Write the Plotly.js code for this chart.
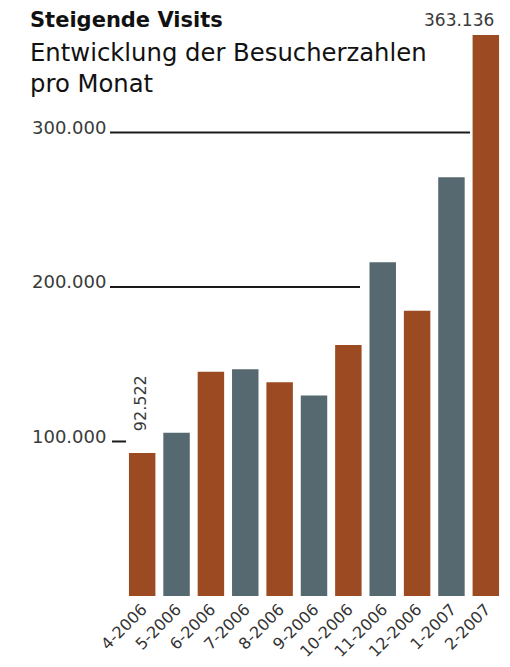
<!DOCTYPE html>
<html>
<head>
<meta charset="utf-8">
<script src="https://cdn.plot.ly/plotly-3.0.1.min.js"></script>
<style>
html,body{margin:0;padding:0;background:#fff;}
#chart{width:510px;height:667px;}
</style>
</head>
<body>
<div id="chart"></div>
<script>
// ---- data ----
const months = ["4-2006","5-2006","6-2006","7-2006","8-2006","9-2006","10-2006","11-2006","12-2006","1-2007","2-2007"];
const visits = [92522, 105700, 145200, 146700, 138300, 129700, 162500, 216000, 184700, 271000, 363136];
const gridValues = [100000, 200000, 300000];
const gridLabels = ["100.000", "200.000", "300.000"];
const titleText = "Steigende Visits";
const subtitleLines = ["Entwicklung der Besucherzahlen", "pro Monat"];

// ---- style ----
const ORANGE = "#9c4a21";
const SLATE = "#566870";
const FONT = "DejaVu Sans, Verdana, sans-serif";
const W = 510, H = 667;
const M = {l: 125, r: 7, t: 20, b: 71};
const plotW = W - M.l - M.r, plotH = H - M.t - M.b;
const px2x = px => (px - M.l) / plotW;
const px2y = py => 1 - (py - M.t) / plotH;

const colors = months.map((m, i) => i % 2 === 0 ? ORANGE : SLATE);

// gridline extents (pixels, style only)
const gridExtents = [[112, 126], [110, 360], [110, 470]];

const shapes = gridValues.map((v, i) => ({
  type: "line", xref: "paper", yref: "y",
  x0: px2x(gridExtents[i][0]), x1: px2x(gridExtents[i][1]),
  y0: v, y1: v,
  line: {color: "#1a1a1a", width: 2}
}));

const annotations = [];
gridValues.forEach((v, i) => {
  annotations.push({
    xref: "paper", yref: "y", x: px2x(108), y: v,
    xanchor: "right", yanchor: "middle", yshift: 5,
    text: gridLabels[i], showarrow: false,
    font: {family: FONT, size: 18, color: "#3a3a3a"}
  });
});
annotations.push({
  xref: "paper", yref: "paper", x: px2x(28), y: px2y(20),
  xanchor: "left", yanchor: "middle",
  text: "<b>" + titleText + "</b>", showarrow: false,
  font: {family: FONT, size: 21, color: "#111"}
});
annotations.push({
  xref: "paper", yref: "paper", x: px2x(28), y: px2y(52),
  xanchor: "left", yanchor: "middle",
  text: subtitleLines[0], showarrow: false,
  font: {family: FONT, size: 24.3, color: "#111"}
});
annotations.push({
  xref: "paper", yref: "paper", x: px2x(28), y: px2y(83),
  xanchor: "left", yanchor: "middle",
  text: subtitleLines[1], showarrow: false,
  font: {family: FONT, size: 24.3, color: "#111"}
});
// value labels on first and last bar
const firstIdx = 0, lastIdx = months.length - 1;
annotations.push({
  xref: "x", yref: "y", x: months[lastIdx], y: visits[lastIdx],
  xanchor: "right", yanchor: "bottom", yshift: 3, xshift: 10,
  text: visits[lastIdx].toLocaleString("de-DE"), showarrow: false,
  font: {family: FONT, size: 17, color: "#3a3a3a"}
});
annotations.push({
  xref: "x", yref: "y", x: months[firstIdx], y: visits[firstIdx],
  xanchor: "center", yanchor: "bottom", yshift: 20, xshift: -2,
  textangle: -90,
  text: visits[firstIdx].toLocaleString("de-DE"), showarrow: false,
  font: {family: FONT, size: 16, color: "#3a3a3a"}
});

const trace = {
  type: "bar",
  x: months,
  y: visits,
  marker: {color: colors, line: {width: 0}},
  hoverinfo: "x+y"
};

const layout = {
  width: W, height: H,
  margin: M,
  paper_bgcolor: "#fff", plot_bgcolor: "#fff",
  bargap: 0.23,
  showlegend: false,
  font: {family: FONT, color: "#333"},
  xaxis: {
    type: "category",
    range: [-0.5, months.length - 0.5],
    showgrid: false, zeroline: false, showline: false, ticks: "",
    tickangle: -45,
    tickfont: {family: FONT, size: 16, color: "#333"},
    ticklabelstandoff: 0
  },
  yaxis: {
    range: [0, 372800],
    showgrid: false, zeroline: false, showline: false, ticks: "",
    showticklabels: false
  },
  shapes: shapes,
  annotations: annotations
};

Plotly.newPlot("chart", [trace], layout, {displayModeBar: false, staticPlot: true});
</script>
</body>
</html>
